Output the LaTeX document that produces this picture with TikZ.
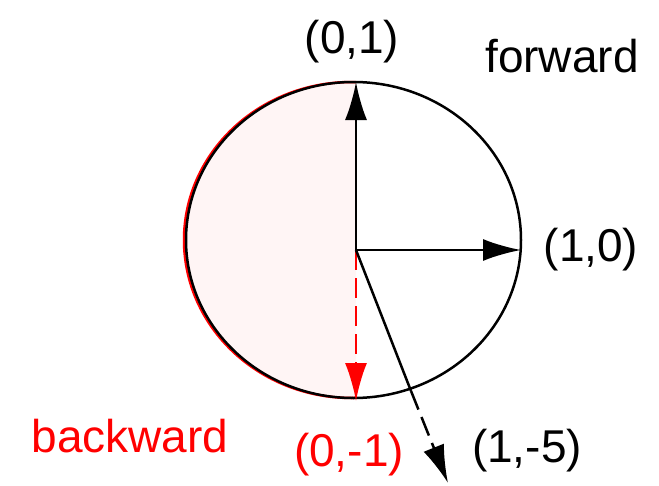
\documentclass[tikz,border=0pt]{standalone}
\usepackage{fontspec}
\setmainfont{Liberation Sans}
\usetikzlibrary{arrows.meta}
\tikzstyle{vec} = [line width=2.5pt,-{Latex[length=38pt,width=22pt]}]
\tikzstyle{dashvec} = [vec, dash pattern=on 20pt off 8pt]
\tikzstyle{coordtext} = [font=\fontsize{46}{55}\selectfont, inner sep=0pt]
\tikzstyle{unitcircle} = [x radius=167.5pt, y radius=158pt]

\begin{document}
\begin{tikzpicture}[x=1pt, y=-1pt]
\useasboundingbox (0,0) rectangle (659,485);

% Points
\coordinate (origin) at (356,250);
\coordinate (up) at (356,82);
\coordinate (right) at (521,250);
\coordinate (down) at (356,401);
\coordinate (cross) at (411,391);
\coordinate (slant) at (448,483);

% Backward half
\begin{scope}
\clip (0,0) rectangle (356,485);
\fill [red!4] (353.5,240) ellipse [unitcircle];
\draw [red, line width=2.5pt] (351.5,240) ellipse [unitcircle];
\end{scope}
\draw [line width=2.5pt] (353.5,240) ellipse [unitcircle];

% Vectors
\draw [vec] (origin) -- (up);
\draw [vec] (origin) -- (right);
\draw [dashvec, red] (origin) -- (down);
\draw [line width=2.5pt] (origin) -- (cross);
\draw [dashvec] (cross) -- (slant);

% Labels
\node (up_label) [coordtext] at (352,42) {(0,1)};
\node (fwd_label) [coordtext] at (562,56) {forward};
\node (right_label) [coordtext] at (591,250) {(1,0)};
\node (down_label) [coordtext, red] at (349,455) {(0,-1)};
\node (bwd_label) [coordtext, red] at (130,436) {backward};
\node (slant_label) [coordtext] at (527,451) {(1,-5)};

\end{tikzpicture}
\end{document}
